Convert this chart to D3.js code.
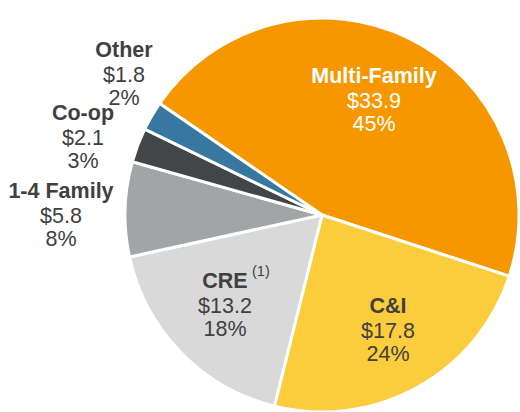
<!DOCTYPE html>
<html>
<head>
<meta charset="utf-8">
<script src="https://cdn.jsdelivr.net/npm/d3@7"></script>
<style>
  body { margin: 0; background: #fff; }
  svg text { font-family: "Liberation Sans", Arial, sans-serif; }
</style>
</head>
<body>
<div id="chart"></div>
<script>
/***** Data *****/
const categories = ["Multi-Family", "C&I", "CRE", "1-4 Family", "Co-op", "Other"];
const amounts    = [33.9, 17.8, 13.2, 5.8, 2.1, 1.8];
const pctLabels  = ["45%", "24%", "18%", "8%", "3%", "2%"];
const colors     = ["#f79700", "#fbcd3d", "#d9d9d9", "#a2a5a6", "#424647", "#3878a0"];

/***** Layout *****/
const W = 520, H = 412;
const cx = 322, cy = 215, R = 197;
const startDeg = -55.5;

const svg = d3.select("#chart").append("svg")
  .attr("width", W).attr("height", H);

const rows = categories.map((c, i) => ({ name: c, amt: amounts[i], pct: pctLabels[i], color: colors[i] }));

const pie = d3.pie()
  .sort(null)
  .value(d => d.amt)
  .startAngle(startDeg * Math.PI / 180)
  .endAngle((startDeg + 360) * Math.PI / 180);

const arc = d3.arc().innerRadius(0).outerRadius(R);

const g = svg.append("g").attr("transform", `translate(${cx},${cy})`);
g.selectAll("path")
  .data(pie(rows))
  .join("path")
  .attr("d", arc)
  .attr("fill", d => d.data.color)
  .attr("stroke", "#fff")
  .attr("stroke-width", 3)
  .attr("stroke-linejoin", "round");

/***** Labels (absolute spots) *****/
const labelPos = {
  "Multi-Family": { x: 374, y: 83, fill: "#fff" },
  "C&I":          { x: 388, y: 313, fill: "#404040" },
  "CRE":          { x: 225, y: 288, fill: "#404040" },
  "1-4 Family":   { x: 61,  y: 198, fill: "#404040" },
  "Co-op":        { x: 83,  y: 120, fill: "#404040" },
  "Other":        { x: 124, y: 57,  fill: "#404040" }
};

rows.forEach(d => {
  const p = labelPos[d.name];
  const t = svg.append("text")
    .attr("text-anchor", "middle")
    .attr("fill", p.fill)
    .style("font-size", "21.5px");
  t.append("tspan").attr("x", p.x).attr("y", p.y)
    .style("font-weight", "bold").text(d.name);
  t.append("tspan").attr("x", p.x).attr("y", p.y + 24.5)
    .text("$" + d.amt.toFixed(1));
  t.append("tspan").attr("x", p.x).attr("y", p.y + 48)
    .text(d.pct);
});

// footnote marker next to CRE
svg.append("text")
  .attr("x", 252).attr("y", 276)
  .attr("fill", "#404040")
  .style("font-size", "14.5px")
  .text("(1)");
</script>
</body>
</html>
